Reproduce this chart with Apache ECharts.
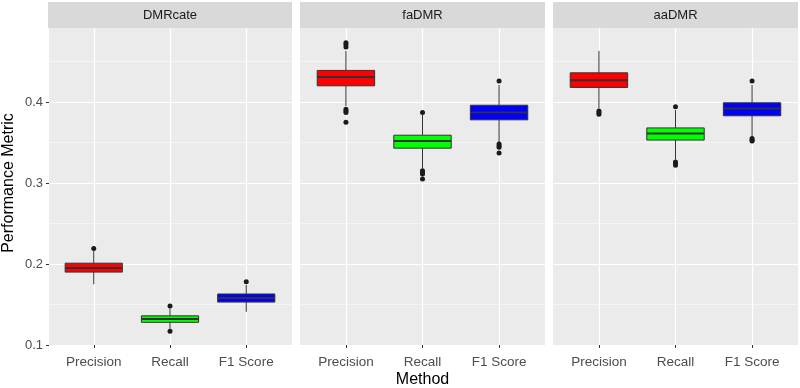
<!DOCTYPE html>
<html>
<head>
<meta charset="utf-8">
<script src="https://cdn.jsdelivr.net/npm/echarts@6/dist/echarts.min.js"></script>
<style>
  html, body { margin: 0; padding: 0; background: #fff; }
  #chart { width: 800px; height: 388px; }
</style>
</head>
<body>
<div id="chart"></div>
<script>
const methods = ['DMRcate', 'faDMR', 'aaDMR'];
const metrics = ['Precision', 'Recall', 'F1 Score'];
const fillColors = ['#FF0000', '#00FF00', '#0000FF'];
const yTicks = [0.1, 0.2, 0.3, 0.4];

// [min, Q1, median, Q3, max] per metric
const dmrcateBoxes = [
  [0.175, 0.190, 0.195, 0.201, 0.216],
  [0.120, 0.128, 0.132, 0.136, 0.145],
  [0.141, 0.153, 0.158, 0.163, 0.174],
];
const fadmrBoxes = [
  [0.395, 0.420, 0.431, 0.439, 0.463],
  [0.318, 0.343, 0.352, 0.359, 0.384],
  [0.350, 0.378, 0.387, 0.396, 0.421],
];
const aadmrBoxes = [
  [0.392, 0.418, 0.427, 0.436, 0.463],
  [0.329, 0.353, 0.361, 0.368, 0.390],
  [0.357, 0.383, 0.392, 0.399, 0.421],
];

// outliers: [metric index, value]
const dmrcateOutliers = [[0, 0.219], [1, 0.148], [1, 0.117], [2, 0.178]];
const fadmrOutliers = [
  [0, 0.473], [0, 0.471], [0, 0.468], [0, 0.391], [0, 0.389], [0, 0.387], [0, 0.375],
  [1, 0.387], [1, 0.315], [1, 0.313], [1, 0.311], [1, 0.305],
  [2, 0.426], [2, 0.348], [2, 0.346], [2, 0.344], [2, 0.337],
];
const aadmrOutliers = [
  [0, 0.389], [0, 0.387], [0, 0.385],
  [1, 0.394], [1, 0.326], [1, 0.324], [1, 0.322],
  [2, 0.426], [2, 0.355], [2, 0.353], [2, 0.352],
];

const allBoxes = [dmrcateBoxes, fadmrBoxes, aadmrBoxes];
const allOutliers = [dmrcateOutliers, fadmrOutliers, aadmrOutliers];

// panel layout (ggplot facets)
const panelLeft = [48, 300, 553];
const panelWidth = [244, 245, 245];
const panelTop = 21;      // y of 0.5, hidden under the strip
const panelHeight = 324;
const Y_MIN = 0.1;
const Y_MAX = 0.5;

const TEXT = '#4D4D4D';
const FONT = 'Liberation Sans, Arial, sans-serif';

const grids = [];
const xAxes = [];
const yAxes = [];
const series = [];
const graphics = [];

// background grids: grey panel + horizontal grid lines
methods.forEach((m, i) => {
  grids.push({
    left: panelLeft[i], top: panelTop, width: panelWidth[i], height: panelHeight,
    show: true, backgroundColor: '#EBEBEB', borderWidth: 0, containLabel: false,
  });
  xAxes.push({ type: 'value', gridIndex: i, show: false, min: 0, max: 1 });
  yAxes.push({
    type: 'value', gridIndex: i, min: Y_MIN, max: Y_MAX, interval: 0.1,
    name: i === 0 ? 'Performance Metric' : '',
    nameLocation: 'middle', nameGap: 32, nameRotate: 90,
    nameTextStyle: { color: '#000', fontSize: 16, fontFamily: FONT },
    axisLine: { show: false },
    axisTick: { show: i === 0, length: 3, lineStyle: { color: '#333', width: 1 } },
    axisLabel: {
      show: i === 0, color: TEXT, fontSize: 13, fontFamily: FONT, margin: 6,
      showMaxLabel: false,
      formatter: (v) => (yTicks.some((t) => Math.abs(t - v) < 1e-9) ? v.toFixed(1) : ''),
    },
    splitLine: { show: true, lineStyle: { color: '#FFFFFF', width: 1.2 } },
    minorTick: { show: false, splitNumber: 2 },
    minorSplitLine: { show: true, lineStyle: { color: 'rgba(255,255,255,0.65)', width: 0.8 } },
  });
});

// data grids: inset so category centres sit where ggplot's discrete scale puts them
methods.forEach((m, i) => {
  const unit = panelWidth[i] / 3.2;
  grids.push({
    left: panelLeft[i] + 0.1 * unit, top: panelTop, width: unit * 3, height: panelHeight,
    show: false, containLabel: false,
  });
  xAxes.push({
    type: 'category', gridIndex: 3 + i, data: metrics,
    axisLine: { show: false },
    axisTick: { show: true, alignWithLabel: true, length: 3, lineStyle: { color: '#333', width: 1 } },
    axisLabel: { color: TEXT, fontSize: 13.5, fontFamily: FONT, margin: 10, interval: 0 },
    splitLine: { show: true, alignWithLabel: true, lineStyle: { color: '#FFFFFF', width: 1.2 } },
  });
  yAxes.push({ type: 'value', gridIndex: 3 + i, min: Y_MIN, max: Y_MAX, show: false });
});

const renderBox = (params, api) => {
  const idx = api.value(0);
  const pMin = api.coord([idx, api.value(1)]);
  const pQ1 = api.coord([idx, api.value(2)]);
  const pMed = api.coord([idx, api.value(3)]);
  const pQ3 = api.coord([idx, api.value(4)]);
  const pMax = api.coord([idx, api.value(5)]);
  const x = pMed[0];
  const half = api.size([1, 0])[0] * 0.375;
  const edge = { stroke: '#333333', lineWidth: 1 };
  return {
    type: 'group',
    children: [
      { type: 'line', shape: { x1: x, y1: pMin[1], x2: x, y2: pQ1[1] }, style: edge },
      { type: 'line', shape: { x1: x, y1: pQ3[1], x2: x, y2: pMax[1] }, style: edge },
      {
        type: 'rect',
        shape: { x: x - half, y: pQ3[1], width: half * 2, height: pQ1[1] - pQ3[1] },
        style: { fill: fillColors[idx], stroke: '#333333', lineWidth: 1 },
      },
      {
        type: 'line',
        shape: { x1: x - half, y1: pMed[1], x2: x + half, y2: pMed[1] },
        style: { stroke: '#333333', lineWidth: 2 },
      },
    ],
  };
};

methods.forEach((m, i) => {
  series.push({
    name: m,
    type: 'custom',
    xAxisIndex: 3 + i,
    yAxisIndex: 3 + i,
    renderItem: renderBox,
    encode: { x: 0, y: [1, 2, 3, 4, 5] },
    data: allBoxes[i].map((b, k) => [k, ...b]),
    z: 3,
  });
  series.push({
    name: m + ' outliers',
    type: 'scatter',
    xAxisIndex: 3 + i,
    yAxisIndex: 3 + i,
    symbolSize: 5,
    itemStyle: { color: '#1A1A1A', opacity: 1 },
    data: allOutliers[i],
    z: 4,
  });

  // facet strip
  graphics.push({
    type: 'rect', left: panelLeft[i], top: 2, z: 100,
    shape: { width: panelWidth[i], height: 26 },
    style: { fill: '#D9D9D9' },
  });
  graphics.push({
    type: 'text', z: 101,
    x: panelLeft[i] + panelWidth[i] / 2, y: 15,
    style: {
      text: m, fill: '#1A1A1A', fontSize: 13, fontFamily: FONT,
      textAlign: 'center', textVerticalAlign: 'middle',
    },
  });
});
// x axis title, centred under the middle facet
graphics.push({
  type: 'text', z: 101,
  x: panelLeft[1] + panelWidth[1] / 2, y: 380,
  style: {
    text: 'Method', fill: '#000', fontSize: 16, fontFamily: FONT,
    textAlign: 'center', textVerticalAlign: 'middle',
  },
});
// hide the tick at the top (0.5) which lies above the visible panel
graphics.push({
  type: 'rect', left: 38, top: 14, z: 100,
  shape: { width: 10, height: 12 }, style: { fill: '#FFFFFF' },
});

const chart = echarts.init(document.getElementById('chart'));
chart.setOption({
  backgroundColor: '#FFFFFF',
  animation: false,
  grid: grids,
  xAxis: xAxes,
  yAxis: yAxes,
  series,
  graphic: graphics,
});
</script>
</body>
</html>
